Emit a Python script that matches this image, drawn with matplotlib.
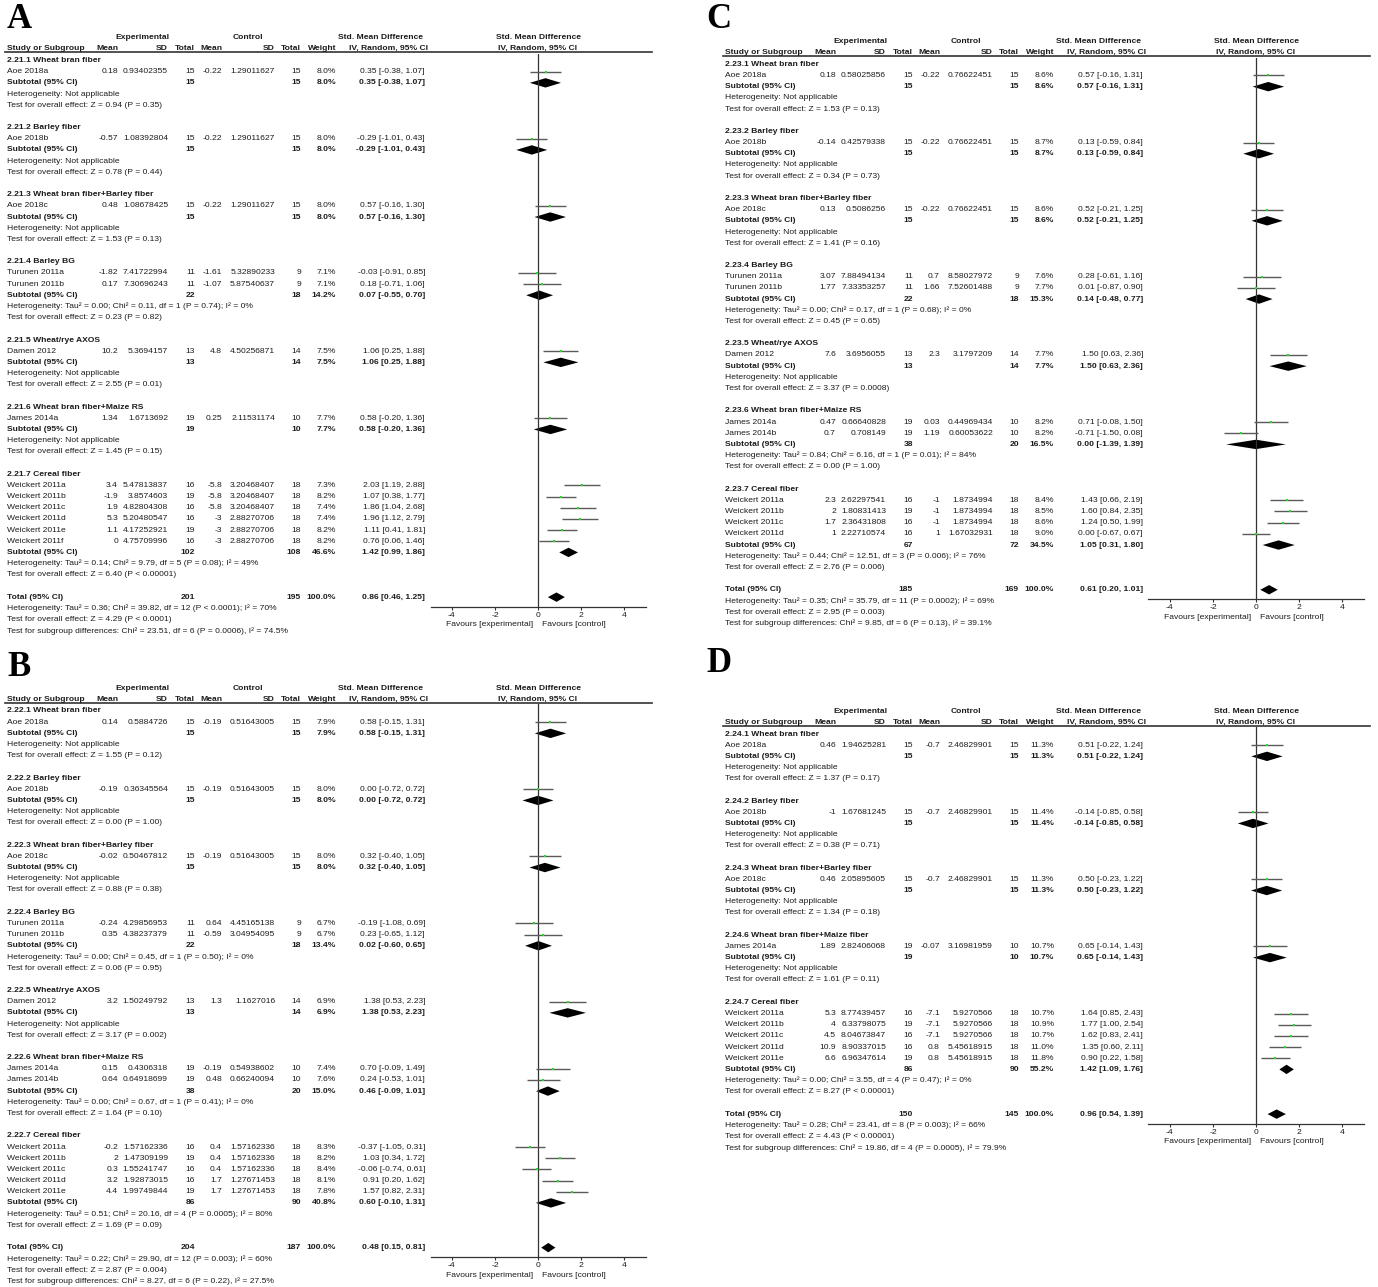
import matplotlib.pyplot as plt

plt.rcParams['font.family'] = ['Liberation Sans', 'DejaVu Sans']

W, H = 1378, 1287
FS = 6.1          # table font size (pt)
INK = '#1c1c1c'
ROW = 11.18       # px per table row
PPU = 21.5        # px per SMD unit on the forest axis
COLS = [111, 161, 188, 215, 268, 294, 329, 418]   # right edges of the columns

# ---------------------------------------------------------------- panel A
a_study = ['Aoe 2018a', 'Aoe 2018b', 'Aoe 2018c', 'Turunen 2011a', 'Turunen 2011b',
           'Damen 2012', 'James 2014a', 'Weickert 2011a', 'Weickert 2011b',
           'Weickert 2011c', 'Weickert 2011d', 'Weickert 2011e', 'Weickert 2011f']
a_group = [0, 1, 2, 3, 3, 4, 5, 6, 6, 6, 6, 6, 6]
a_mean_e = [0.18, -0.57, 0.48, -1.82, 0.17, 10.2, 1.34, 3.4, -1.9, 1.9, 5.3, 1.1, 0]
a_sd_e = [0.93402355, 1.08392804, 1.08678425, 7.41722994, 7.30696243, 5.3694157,
          1.6713692, 5.47813837, 3.8574603, 4.82804308, 5.20480547, 4.17252921, 4.75709996]
a_n_e = [15, 15, 15, 11, 11, 13, 19, 16, 19, 16, 16, 19, 16]
a_mean_c = [-0.22, -0.22, -0.22, -1.61, -1.07, 4.8, 0.25, -5.8, -5.8, -5.8, -3, -3, -3]
a_sd_c = [1.29011627, 1.29011627, 1.29011627, 5.32890233, 5.87540637, 4.50256871,
          2.11531174, 3.20468407, 3.20468407, 3.20468407, 2.88270706, 2.88270706, 2.88270706]
a_n_c = [15, 15, 15, 9, 9, 14, 10, 18, 18, 18, 18, 18, 18]
a_weight = [8.0, 8.0, 8.0, 7.1, 7.1, 7.5, 7.7, 7.3, 8.2, 7.4, 7.4, 8.2, 8.2]
a_smd = [0.35, -0.29, 0.57, -0.03, 0.18, 1.06, 0.58, 2.03, 1.07, 1.86, 1.96, 1.11, 0.76]
a_lo = [-0.38, -1.01, -0.16, -0.91, -0.71, 0.25, -0.20, 1.19, 0.38, 1.04, 1.12, 0.41, 0.06]
a_hi = [1.07, 0.43, 1.30, 0.85, 1.06, 1.88, 1.36, 2.88, 1.77, 2.68, 2.79, 1.81, 1.46]
a_sub_title = ['2.21.1 Wheat bran fiber', '2.21.2 Barley fiber',
               '2.21.3 Wheat bran fiber+Barley fiber', '2.21.4 Barley BG',
               '2.21.5 Wheat/rye AXOS', '2.21.6 Wheat bran fiber+Maize RS', '2.21.7 Cereal fiber']
a_sub_n_e = [15, 15, 15, 22, 13, 19, 102]
a_sub_n_c = [15, 15, 15, 18, 14, 10, 108]
a_sub_weight = [8.0, 8.0, 8.0, 14.2, 7.5, 7.7, 46.6]
a_sub_smd = [0.35, -0.29, 0.57, 0.07, 1.06, 0.58, 1.42]
a_sub_lo = [-0.38, -1.01, -0.16, -0.55, 0.25, -0.20, 0.99]
a_sub_hi = [1.07, 0.43, 1.30, 0.70, 1.88, 1.36, 1.86]
a_sub_het = ['Not applicable', 'Not applicable', 'Not applicable',
             'Tau² = 0.00; Chi² = 0.11, df = 1 (P = 0.74); I² = 0%',
             'Not applicable', 'Not applicable',
             'Tau² = 0.14; Chi² = 9.79, df = 5 (P = 0.08); I² = 49%']
a_sub_z = ['Z = 0.94 (P = 0.35)', 'Z = 0.78 (P = 0.44)', 'Z = 1.53 (P = 0.13)',
           'Z = 0.23 (P = 0.82)', 'Z = 2.55 (P = 0.01)', 'Z = 1.45 (P = 0.15)',
           'Z = 6.40 (P < 0.00001)']
a_total_n = [201, 195]
a_total_ci = [0.86, 0.46, 1.25]
a_total_notes = ['Tau² = 0.36; Chi² = 39.82, df = 12 (P < 0.0001); I² = 70%',
                 'Z = 4.29 (P < 0.0001)',
                 'Chi² = 23.51, df = 6 (P = 0.0006), I² = 74.5%']

# ---------------------------------------------------------------- panel B
b_study = ['Aoe 2018a', 'Aoe 2018b', 'Aoe 2018c', 'Turunen 2011a', 'Turunen 2011b',
           'Damen 2012', 'James 2014a', 'James 2014b', 'Weickert 2011a', 'Weickert 2011b',
           'Weickert 2011c', 'Weickert 2011d', 'Weickert 2011e']
b_group = [0, 1, 2, 3, 3, 4, 5, 5, 6, 6, 6, 6, 6]
b_mean_e = [0.14, -0.19, -0.02, -0.24, 0.35, 3.2, 0.15, 0.64, -0.2, 2, 0.3, 3.2, 4.4]
b_sd_e = [0.5884726, 0.36345564, 0.50467812, 4.29856953, 4.38237379, 1.50249792,
          0.4306318, 0.64918699, 1.57162336, 1.47309199, 1.55241747, 1.92873015, 1.99749844]
b_n_e = [15, 15, 15, 11, 11, 13, 19, 19, 16, 19, 16, 16, 19]
b_mean_c = [-0.19, -0.19, -0.19, 0.64, -0.59, 1.3, -0.19, 0.48, 0.4, 0.4, 0.4, 1.7, 1.7]
b_sd_c = [0.51643005, 0.51643005, 0.51643005, 4.45165138, 3.04954095, 1.1627016,
          0.54938602, 0.66240094, 1.57162336, 1.57162336, 1.57162336, 1.27671453, 1.27671453]
b_n_c = [15, 15, 15, 9, 9, 14, 10, 10, 18, 18, 18, 18, 18]
b_weight = [7.9, 8.0, 8.0, 6.7, 6.7, 6.9, 7.4, 7.6, 8.3, 8.2, 8.4, 8.1, 7.8]
b_smd = [0.58, 0.00, 0.32, -0.19, 0.23, 1.38, 0.70, 0.24, -0.37, 1.03, -0.06, 0.91, 1.57]
b_lo = [-0.15, -0.72, -0.40, -1.08, -0.65, 0.53, -0.09, -0.53, -1.05, 0.34, -0.74, 0.20, 0.82]
b_hi = [1.31, 0.72, 1.05, 0.69, 1.12, 2.23, 1.49, 1.01, 0.31, 1.72, 0.61, 1.62, 2.31]
b_sub_title = ['2.22.1 Wheat bran fiber', '2.22.2 Barley fiber',
               '2.22.3 Wheat bran fiber+Barley fiber', '2.22.4 Barley BG',
               '2.22.5 Wheat/rye AXOS', '2.22.6 Wheat bran fiber+Maize RS', '2.22.7 Cereal fiber']
b_sub_n_e = [15, 15, 15, 22, 13, 38, 86]
b_sub_n_c = [15, 15, 15, 18, 14, 20, 90]
b_sub_weight = [7.9, 8.0, 8.0, 13.4, 6.9, 15.0, 40.8]
b_sub_smd = [0.58, 0.00, 0.32, 0.02, 1.38, 0.46, 0.60]
b_sub_lo = [-0.15, -0.72, -0.40, -0.60, 0.53, -0.09, -0.10]
b_sub_hi = [1.31, 0.72, 1.05, 0.65, 2.23, 1.01, 1.31]
b_sub_het = ['Not applicable', 'Not applicable', 'Not applicable',
             'Tau² = 0.00; Chi² = 0.45, df = 1 (P = 0.50); I² = 0%',
             'Not applicable',
             'Tau² = 0.00; Chi² = 0.67, df = 1 (P = 0.41); I² = 0%',
             'Tau² = 0.51; Chi² = 20.16, df = 4 (P = 0.0005); I² = 80%']
b_sub_z = ['Z = 1.55 (P = 0.12)', 'Z = 0.00 (P = 1.00)', 'Z = 0.88 (P = 0.38)',
           'Z = 0.06 (P = 0.95)', 'Z = 3.17 (P = 0.002)', 'Z = 1.64 (P = 0.10)',
           'Z = 1.69 (P = 0.09)']
b_total_n = [204, 187]
b_total_ci = [0.48, 0.15, 0.81]
b_total_notes = ['Tau² = 0.22; Chi² = 29.90, df = 12 (P = 0.003); I² = 60%',
                 'Z = 2.87 (P = 0.004)',
                 'Chi² = 8.27, df = 6 (P = 0.22), I² = 27.5%']

# ---------------------------------------------------------------- panel C
c_study = ['Aoe 2018a', 'Aoe 2018b', 'Aoe 2018c', 'Turunen 2011a', 'Turunen 2011b',
           'Damen 2012', 'James 2014a', 'James 2014b', 'Weickert 2011a', 'Weickert 2011b',
           'Weickert 2011c', 'Weickert 2011d']
c_group = [0, 1, 2, 3, 3, 4, 5, 5, 6, 6, 6, 6]
c_mean_e = [0.18, -0.14, 0.13, 3.07, 1.77, 7.6, 0.47, 0.7, 2.3, 2, 1.7, 1]
c_sd_e = [0.58025856, 0.42579338, 0.5086256, 7.88494134, 7.33353257, 3.6956055,
          0.66640828, 0.708149, 2.62297541, 1.80831413, 2.36431808, 2.22710574]
c_n_e = [15, 15, 15, 11, 11, 13, 19, 19, 16, 19, 16, 16]
c_mean_c = [-0.22, -0.22, -0.22, 0.7, 1.66, 2.3, 0.03, 1.19, -1, -1, -1, 1]
c_sd_c = [0.76622451, 0.76622451, 0.76622451, 8.58027972, 7.52601488, 3.1797209,
          0.44969434, 0.60053622, 1.8734994, 1.8734994, 1.8734994, 1.67032931]
c_n_c = [15, 15, 15, 9, 9, 14, 10, 10, 18, 18, 18, 18]
c_weight = [8.6, 8.7, 8.6, 7.6, 7.7, 7.7, 8.2, 8.2, 8.4, 8.5, 8.6, 9.0]
c_smd = [0.57, 0.13, 0.52, 0.28, 0.01, 1.50, 0.71, -0.71, 1.43, 1.60, 1.24, 0.00]
c_lo = [-0.16, -0.59, -0.21, -0.61, -0.87, 0.63, -0.08, -1.50, 0.66, 0.84, 0.50, -0.67]
c_hi = [1.31, 0.84, 1.25, 1.16, 0.90, 2.36, 1.50, 0.08, 2.19, 2.35, 1.99, 0.67]
c_sub_title = ['2.23.1 Wheat bran fiber', '2.23.2 Barley fiber',
               '2.23.3 Wheat bran fiber+Barley fiber', '2.23.4 Barley BG',
               '2.23.5 Wheat/rye AXOS', '2.23.6 Wheat bran fiber+Maize RS', '2.23.7 Cereal fiber']
c_sub_n_e = [15, 15, 15, 22, 13, 38, 67]
c_sub_n_c = [15, 15, 15, 18, 14, 20, 72]
c_sub_weight = [8.6, 8.7, 8.6, 15.3, 7.7, 16.5, 34.5]
c_sub_smd = [0.57, 0.13, 0.52, 0.14, 1.50, 0.00, 1.05]
c_sub_lo = [-0.16, -0.59, -0.21, -0.48, 0.63, -1.39, 0.31]
c_sub_hi = [1.31, 0.84, 1.25, 0.77, 2.36, 1.39, 1.80]
c_sub_het = ['Not applicable', 'Not applicable', 'Not applicable',
             'Tau² = 0.00; Chi² = 0.17, df = 1 (P = 0.68); I² = 0%',
             'Not applicable',
             'Tau² = 0.84; Chi² = 6.16, df = 1 (P = 0.01); I² = 84%',
             'Tau² = 0.44; Chi² = 12.51, df = 3 (P = 0.006); I² = 76%']
c_sub_z = ['Z = 1.53 (P = 0.13)', 'Z = 0.34 (P = 0.73)', 'Z = 1.41 (P = 0.16)',
           'Z = 0.45 (P = 0.65)', 'Z = 3.37 (P = 0.0008)', 'Z = 0.00 (P = 1.00)',
           'Z = 2.76 (P = 0.006)']
c_total_n = [185, 169]
c_total_ci = [0.61, 0.20, 1.01]
c_total_notes = ['Tau² = 0.35; Chi² = 35.79, df = 11 (P = 0.0002); I² = 69%',
                 'Z = 2.95 (P = 0.003)',
                 'Chi² = 9.85, df = 6 (P = 0.13), I² = 39.1%']

# ---------------------------------------------------------------- panel D
d_study = ['Aoe 2018a', 'Aoe 2018b', 'Aoe 2018c', 'James 2014a', 'Weickert 2011a',
           'Weickert 2011b', 'Weickert 2011c', 'Weickert 2011d', 'Weickert 2011e']
d_group = [0, 1, 2, 3, 4, 4, 4, 4, 4]
d_mean_e = [0.46, -1, 0.46, 1.89, 5.3, 4, 4.5, 10.9, 6.6]
d_sd_e = [1.94625281, 1.67681245, 2.05895605, 2.82406068, 8.77439457, 6.33798075,
          8.04673847, 8.90337015, 6.96347614]
d_n_e = [15, 15, 15, 19, 16, 19, 16, 16, 19]
d_mean_c = [-0.7, -0.7, -0.7, -0.07, -7.1, -7.1, -7.1, 0.8, 0.8]
d_sd_c = [2.46829901, 2.46829901, 2.46829901, 3.16981959, 5.9270566, 5.9270566,
          5.9270566, 5.45618915, 5.45618915]
d_n_c = [15, 15, 15, 10, 18, 18, 18, 18, 18]
d_weight = [11.3, 11.4, 11.3, 10.7, 10.7, 10.9, 10.7, 11.0, 11.8]
d_smd = [0.51, -0.14, 0.50, 0.65, 1.64, 1.77, 1.62, 1.35, 0.90]
d_lo = [-0.22, -0.85, -0.23, -0.14, 0.85, 1.00, 0.83, 0.60, 0.22]
d_hi = [1.24, 0.58, 1.22, 1.43, 2.43, 2.54, 2.41, 2.11, 1.58]
d_sub_title = ['2.24.1 Wheat bran fiber', '2.24.2 Barley fiber',
               '2.24.3 Wheat bran fiber+Barley fiber', '2.24.6 Wheat bran fiber+Maize fiber',
               '2.24.7 Cereal fiber']
d_sub_n_e = [15, 15, 15, 19, 86]
d_sub_n_c = [15, 15, 15, 10, 90]
d_sub_weight = [11.3, 11.4, 11.3, 10.7, 55.2]
d_sub_smd = [0.51, -0.14, 0.50, 0.65, 1.42]
d_sub_lo = [-0.22, -0.85, -0.23, -0.14, 1.09]
d_sub_hi = [1.24, 0.58, 1.22, 1.43, 1.76]
d_sub_het = ['Not applicable', 'Not applicable', 'Not applicable', 'Not applicable',
             'Tau² = 0.00; Chi² = 3.55, df = 4 (P = 0.47); I² = 0%']
d_sub_z = ['Z = 1.37 (P = 0.17)', 'Z = 0.38 (P = 0.71)', 'Z = 1.34 (P = 0.18)',
           'Z = 1.61 (P = 0.11)', 'Z = 8.27 (P < 0.00001)']
d_total_n = [150, 145]
d_total_ci = [0.96, 0.54, 1.39]
d_total_notes = ['Tau² = 0.28; Chi² = 23.41, df = 8 (P = 0.003); I² = 66%',
                 'Z = 4.43 (P < 0.00001)',
                 'Chi² = 19.86, df = 4 (P = 0.0005), I² = 79.9%']


def num(v):
    return '{:.10g}'.format(v)


def ci(m, lo, hi):
    return f'{m:.2f} [{lo:.2f}, {hi:.2f}]'


fig = plt.figure(figsize=(W / 100, H / 100), dpi=100)
big = fig.add_axes([0, 0, 1, 1])
big.set_xlim(0, W)
big.set_ylim(H, 0)
big.axis('off')


def put(x, y, s, ha='left', bold=False, size=FS):
    big.text(x, y, s, ha=ha, va='center', fontsize=size, color=INK,
             fontweight='bold' if bold else 'normal')


def draw_panel(label, label_xy, x0, y0, p):
    zero = x0 + 531
    ypx = lambda r: y0 + r * ROW

    # panel letter
    big.text(label_xy[0], label_xy[1], label, ha='left', va='center', fontsize=25,
             fontweight='bold', color='black',
             family=['Liberation Serif', 'DejaVu Serif'])

    # header
    put(x0 + 135, ypx(-2.05), 'Experimental', ha='center', bold=True)
    put(x0 + 241, ypx(-2.05), 'Control', ha='center', bold=True)
    put(x0 + 374, ypx(-2.05), 'Std. Mean Difference', ha='center', bold=True)
    put(zero, ypx(-2.05), 'Std. Mean Difference', ha='center', bold=True)
    hdr = ['Mean', 'SD', 'Total', 'Mean', 'SD', 'Total', 'Weight', 'IV, Random, 95% CI']
    put(x0, ypx(-1.05), 'Study or Subgroup', bold=True)
    for c, s in zip(COLS, hdr):
        put(x0 + c + (3 if s.startswith('IV') else 0), ypx(-1.05), s, ha='right', bold=True)
    put(zero, ypx(-1.05), 'IV, Random, 95% CI', ha='center', bold=True)
    big.plot([x0 - 2, zero + 114], [ypx(-0.72)] * 2, color='#333333', lw=1.2)

    study_row = {}
    sub_row = []
    r = 0
    for g, title in enumerate(p['sub_title']):
        put(x0, ypx(r), title, bold=True)
        r += 1
        for i, grp in enumerate(p['group']):
            if grp != g:
                continue
            put(x0, ypx(r), p['study'][i])
            vals = [num(p['mean_e'][i]), num(p['sd_e'][i]), str(p['n_e'][i]),
                    num(p['mean_c'][i]), num(p['sd_c'][i]), str(p['n_c'][i]),
                    f"{p['weight'][i]:.1f}%", ci(p['smd'][i], p['lo'][i], p['hi'][i])]
            for c, s in zip(COLS, vals):
                put(x0 + c, ypx(r), s, ha='right')
            study_row[i] = r
            r += 1
        put(x0, ypx(r), 'Subtotal (95% CI)', bold=True)
        put(x0 + COLS[2], ypx(r), str(p['sub_n_e'][g]), ha='right', bold=True)
        put(x0 + COLS[5], ypx(r), str(p['sub_n_c'][g]), ha='right', bold=True)
        put(x0 + COLS[6], ypx(r), f"{p['sub_weight'][g]:.1f}%", ha='right', bold=True)
        put(x0 + COLS[7], ypx(r),
            ci(p['sub_smd'][g], p['sub_lo'][g], p['sub_hi'][g]), ha='right', bold=True)
        sub_row.append(r)
        put(x0, ypx(r + 1), 'Heterogeneity: ' + p['sub_het'][g])
        put(x0, ypx(r + 2), 'Test for overall effect: ' + p['sub_z'][g])
        r += 4

    total_row = r
    put(x0, ypx(r), 'Total (95% CI)', bold=True)
    put(x0 + COLS[2], ypx(r), str(p['total_n'][0]), ha='right', bold=True)
    put(x0 + COLS[5], ypx(r), str(p['total_n'][1]), ha='right', bold=True)
    put(x0 + COLS[6], ypx(r), '100.0%', ha='right', bold=True)
    put(x0 + COLS[7], ypx(r), ci(*p['total_ci']), ha='right', bold=True)
    put(x0, ypx(r + 1), 'Heterogeneity: ' + p['total_notes'][0])
    put(x0, ypx(r + 2), 'Test for overall effect: ' + p['total_notes'][1])
    put(x0, ypx(r + 3), 'Test for subgroup differences: ' + p['total_notes'][2])

    # forest plot axes, rows as y units
    top_r, bot_r = -0.6, total_row + 0.85
    left_px = zero - 5 * PPU
    top_px, bot_px = ypx(top_r), ypx(bot_r)
    ax = fig.add_axes([left_px / W, 1 - bot_px / H, 10 * PPU / W, (bot_px - top_px) / H])
    ax.set_xlim(-5, 5)
    ax.set_ylim(bot_r, top_r)
    ax.patch.set_alpha(0)
    for s in ['top', 'left', 'right']:
        ax.spines[s].set_visible(False)
    ax.spines['bottom'].set_color('#333333')
    ax.spines['bottom'].set_linewidth(0.9)
    ax.set_yticks([])
    ax.set_xticks([-4, -2, 0, 2, 4])
    ax.set_xticklabels(['-4', '-2', '0', '2', '4'])
    ax.tick_params(axis='x', length=2.5, width=0.8, color='#333333',
                   labelsize=FS, labelcolor=INK, pad=1.2)
    ax.axvline(0, color='#333333', lw=0.9)

    idx = sorted(study_row)
    rows = [study_row[i] for i in idx]
    ax.hlines(rows, [p['lo'][i] for i in idx], [p['hi'][i] for i in idx],
              color='#5a5a5a', lw=1.0, zorder=2)
    ax.plot([p['smd'][i] for i in idx], rows, 's', color='#1fe01f', ms=2.0, mew=0, zorder=3)

    h = 0.42
    dia = [(sub_row[g], p['sub_smd'][g], p['sub_lo'][g], p['sub_hi'][g])
           for g in range(len(sub_row))]
    dia.append((total_row, *p['total_ci']))
    for rr, m, lo, hi in dia:
        ax.fill([lo, m, hi, m], [rr, rr - h, rr, rr + h], color='black', lw=0)

    put(zero - 5, bot_px + 18, 'Favours [experimental]', ha='right')
    put(zero + 4, bot_px + 18, 'Favours [control]', ha='left')


def panel(pre):
    g = globals()
    keys = ['study', 'group', 'mean_e', 'sd_e', 'n_e', 'mean_c', 'sd_c', 'n_c', 'weight',
            'smd', 'lo', 'hi', 'sub_title', 'sub_n_e', 'sub_n_c', 'sub_weight', 'sub_smd',
            'sub_lo', 'sub_hi', 'sub_het', 'sub_z', 'total_n', 'total_ci', 'total_notes']
    return {k: g[pre + '_' + k] for k in keys}


draw_panel('A', (7, 19), 7, 60.5, panel('a'))
draw_panel('B', (7, 667), 7, 711.0, panel('b'))
draw_panel('C', (706, 19), 725, 64.3, panel('c'))
draw_panel('D', (706, 663), 725, 734.0, panel('d'))

fig.savefig('out.png', dpi=100)
